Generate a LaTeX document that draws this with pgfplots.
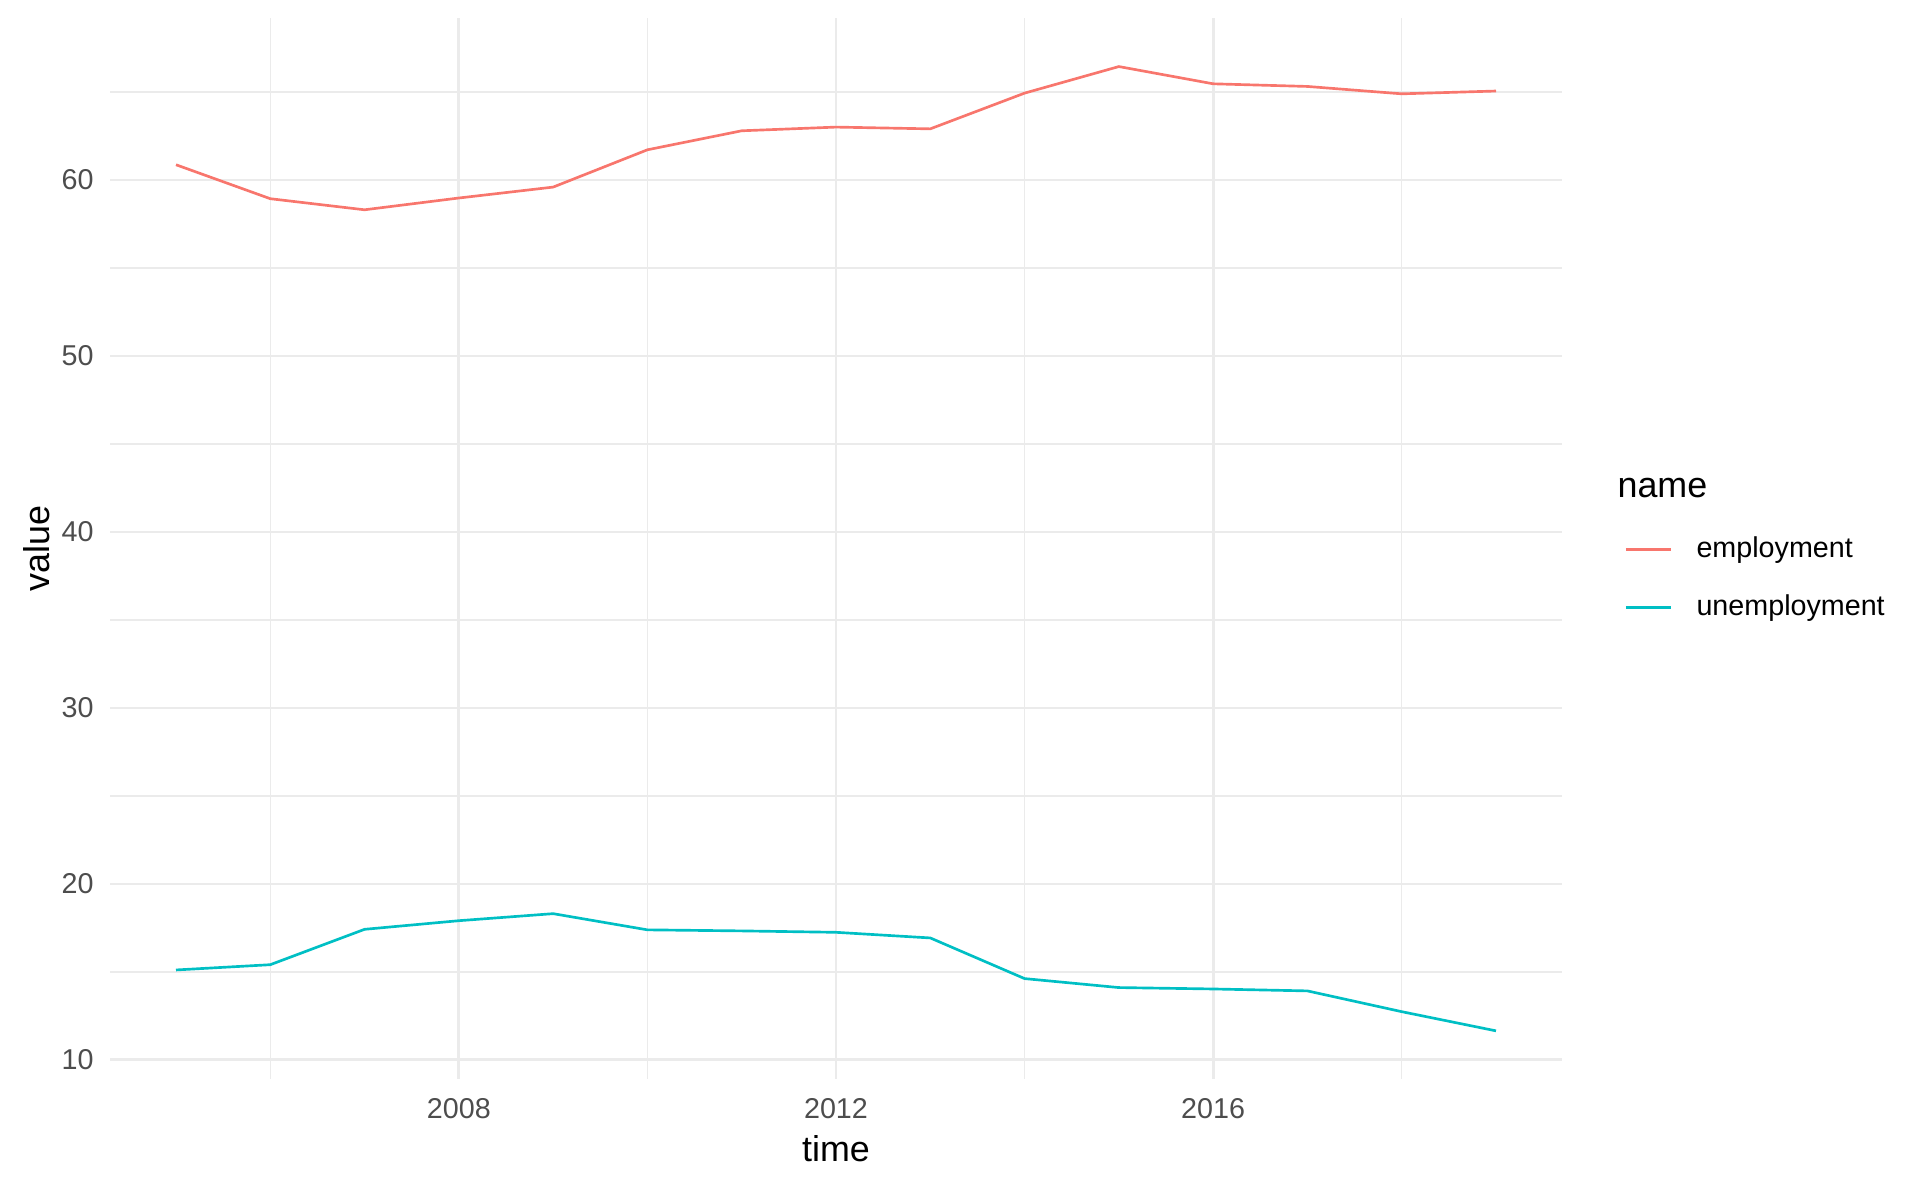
\documentclass[border=0pt]{standalone}
\usepackage{pgfplots}
\pgfplotsset{compat=1.18}
\usepackage{fontspec}
\setmainfont{Liberation Sans}
\definecolor{empc}{HTML}{F8766D}
\definecolor{unec}{HTML}{00BFC4}
\definecolor{gridc}{HTML}{EBEBEB}
\definecolor{tickc}{HTML}{4D4D4D}
\begin{document}
\begin{tikzpicture}
\path[use as bounding box] (-41.25bp,-40.1bp) rectangle (678.75bp,404.65bp);
\begin{axis}[
  at={(0,0)}, anchor=south west,
  scale only axis, width=544.5bp, height=397.9bp,
  xmin=2004.3, xmax=2019.7, ymin=8.91, ymax=69.21,
  xtick={2008,2012,2016}, minor xtick={2006,2010,2014,2018},
  ytick={10,20,30,40,50,60}, minor ytick={15,25,35,45,55,65},
  grid=both,
  major grid style={draw=gridc, line width=1.05bp},
  minor grid style={draw=gridc, line width=0.5bp},
  axis line style={draw=none},
  tick style={draw=none},
  /pgf/number format/1000 sep={},
  /pgf/number format/assume math mode=true,
  ticklabel style={font=\fontsize{10.8}{12}\selectfont, text=tickc, inner sep=0pt},
  xticklabel style={anchor=north, yshift=-7bp},
  yticklabel style={anchor=east, xshift=-6bp},
  xlabel={time}, ylabel={value},
  every axis x label/.style={at={(axis description cs:0.5,-0.066)}, anchor=center, inner sep=0pt, font=\fontsize{13.5}{15}\selectfont},
  every axis y label/.style={at={(axis description cs:-0.0503,0.5)}, anchor=center, rotate=90, inner sep=0pt, font=\fontsize{13.5}{15}\selectfont},
  legend style={at={(axis description cs:1.0427,0.4715)}, anchor=west, draw=none, fill=none,
    inner sep=0pt, row sep=11.25bp, font=\fontsize{10.8}{12}\selectfont,
    nodes={inner sep=0pt, text height=8bp, text depth=2.5bp},
    /tikz/every odd column/.append style={column sep=9bp}},
  legend cell align=left,
  legend image code/.code={\draw[#1] (0bp,0bp) -- (17bp,0bp);},
  clip=false,
]
\addplot[empc, line width=1bp] coordinates {
(2005,60.87) (2006,58.94) (2007,58.31) (2008,58.98) (2009,59.60) (2010,61.72)
(2011,62.80) (2012,63.01) (2013,62.91) (2014,64.94) (2015,66.45) (2016,65.47)
(2017,65.32) (2018,64.90) (2019,65.06)};
\addlegendentry{employment}
\addplot[unec, line width=1bp] coordinates {
(2005,15.11) (2006,15.41) (2007,17.42) (2008,17.91) (2009,18.31) (2010,17.39)
(2011,17.33) (2012,17.25) (2013,16.93) (2014,14.62) (2015,14.11) (2016,14.03)
(2017,13.92) (2018,12.74) (2019,11.65)};
\addlegendentry{unemployment}
\node[anchor=west, inner sep=0pt, font=\fontsize{13.5}{15}\selectfont] at (axis description cs:1.0379,0.5571) {name};
\end{axis}
\end{tikzpicture}
\end{document}
